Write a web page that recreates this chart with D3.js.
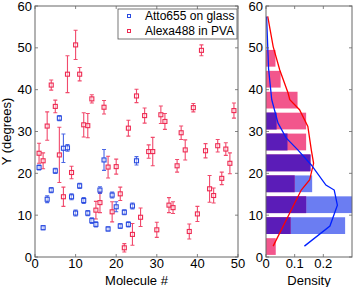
<!DOCTYPE html>
<html lang="en">
<head>
<meta charset="UTF-8">
<title>Molecule angles</title>
<script src="https://d3js.org/d3.v7.min.js"></script>
<style>
  body { margin: 0; background: #fff; }
  text { font-family: "Liberation Sans", Arial, sans-serif; fill: #000; }
  .tick-label { font-size: 13px; }
  .axis-label { font-size: 13px; }
  .legend text { font-size: 12px; }
</style>
</head>
<body>
<svg width="355" height="287"></svg>
<script>
// scatter data: molecule # -> gamma (degrees) with error
var blueMol = d3.range(1, 26);
var blueVals = [21.4, 7.0, 13.8, 16.0, 20.6, 33.2, 26.0, 26.1, 14.4, 10.5, 17.0, 13.5, 10.5,
                8.7, 7.8, 16.0, 23.2, 6.7, 14.8, 12.0, 7.4, 10.7, 7.8, 12.2, 23.0];
var blueErr = [0.6, 0.5, 0.8, 0.6, 0.6, 0.6, 3.4, 0.8, 0.7, 0.7, 0.6, 0.7, 0.6,
               0.7, 0.6, 0.8, 2.5, 0.5, 0.7, 1.2, 0.6, 0.6, 0.6, 0.7, 1.0];

var redMol = d3.range(1, 50);
var redVals = [24.8, 23.0, 31.3, 41.1, 36.0, 24.4, 14.4, 43.7, 20.2, 50.7, 43.7, 31.6, 31.4,
               37.8, 11.2, 13.0, 35.8, 21.5, 10.8, 21.6, 15.1, 2.2, 30.8, 5.4, 38.5, 9.5,
               33.8, 25.2, 25.2, 6.5, 34.0, 32.4, 12.4, 11.8, 21.8, 29.7, 25.6, 6.1, 35.7,
               10.3, 49.4, 25.4, 16.3, 14.7, 26.6, 18.8, 25.8, 22.4, 35.0];
var redErr = [2.4, 1.9, 3.4, 1.2, 1.5, 6.6, 2.3, 4.4, 1.5, 3.5, 1.6, 2.9, 2.9,
              1.0, 2.1, 2.4, 1.6, 2.6, 2.4, 1.8, 1.6, 1.0, 1.9, 2.6, 1.6, 2.2,
              1.8, 1.6, 3.4, 1.8, 2.1, 1.9, 1.8, 1.4, 1.5, 1.6, 2.4, 1.8, 1.0,
              1.8, 1.3, 1.7, 3.2, 1.8, 1.5, 1.5, 1.5, 2.5, 1.8];

// histogram (bin lower edges, width 5) and densities
var binStarts = [0, 5, 10, 15, 20, 25, 30, 35, 40, 45];
var redDensity  = [0.034, 0.086, 0.14, 0.10, 0.155, 0.14, 0.14, 0.11, 0.051, 0.033];
var blueDensity = [0, 0.276, 0.30, 0.161, 0.155, 0.075, 0.037, 0, 0, 0];

// smoothed density curves
var redCurveY = [2.6, 10.4, 16, 18.4, 22.4, 25.6, 31.2, 35.2, 37.6, 39.2, 44.7, 50.3, 57.5];
var redCurveX = [0.025, 0.082, 0.123, 0.152, 0.166, 0.158, 0.146, 0.117, 0.083, 0.077, 0.048, 0.025, 0.006];
var blueCurveY = [2.6, 7.4, 12.4, 16, 17.2, 22, 25.6, 28.4, 32, 37.6, 45, 57.5];
var blueCurveX = [0.134, 0.223, 0.249, 0.238, 0.209, 0.158, 0.111, 0.071, 0.042, 0.02, 0.009, 0.002];

var legendLabels = ["Atto655 on glass", "Alexa488 in PVA"];
var yTicks = [0, 10, 20, 30, 40, 50, 60];
var xTicks = [0, 10, 20, 30, 40, 50];
var dTicks = [0, 0.1, 0.2];

var blueCol = "#2a4be0", redCol = "#ee2a52";
var frameCol = "#666";

var svg = d3.select("svg");

var plotTop = 6, plotBottom = 257;
var x = d3.scaleLinear().domain([0, 50]).range([35, 238]);
var y = d3.scaleLinear().domain([0, 60]).range([plotBottom, plotTop]);
var xd = d3.scaleLinear().domain([0, 0.3]).range([266, 352]);

function frame(x0, x1, xt, xs, labelFmt) {
    var g = svg.append("g");
    // ticks inward on all four sides
    g.selectAll(".yt").data(yTicks).enter().append("path")
        .attr("d", function(d) { return "M" + x0 + "," + y(d) + "h3M" + x1 + "," + y(d) + "h-3"; })
        .attr("stroke", frameCol).attr("stroke-width", 0.8);
    g.selectAll(".xt").data(xt).enter().append("path")
        .attr("d", function(d) { return "M" + xs(d) + "," + plotBottom + "v-3M" + xs(d) + "," + plotTop + "v3"; })
        .attr("stroke", frameCol).attr("stroke-width", 0.8);
    g.append("rect")
        .attr("x", x0).attr("y", plotTop)
        .attr("width", x1 - x0).attr("height", plotBottom - plotTop)
        .attr("fill", "none").attr("stroke", frameCol).attr("stroke-width", 1);
    g.selectAll(".yl").data(yTicks).enter().append("text")
        .attr("class", "tick-label")
        .attr("x", x0 - 3).attr("y", function(d) { return y(d); })
        .attr("dy", "0.35em").attr("text-anchor", "end")
        .text(function(d) { return d; });
    g.selectAll(".xl").data(xt).enter().append("text")
        .attr("class", "tick-label")
        .attr("x", function(d) { return xs(d); }).attr("y", plotBottom + 11)
        .attr("text-anchor", "middle")
        .text(labelFmt);
}

// ---- left: scatter with error bars ----
function series(mol, vals, errs, col) {
    var g = svg.append("g").attr("stroke", col).attr("fill", "none").attr("stroke-width", 1.1);
    var pts = mol.map(function(m, i) { return { m: m, v: vals[i], e: errs[i] }; });
    g.selectAll(".eb").data(pts).enter().append("path")
        .attr("d", function(d) {
            var cx = x(d.m), y1 = y(d.v + d.e), y2 = y(d.v - d.e);
            return "M" + cx + "," + y1 + "V" + y2 +
                   "M" + (cx - 2) + "," + y1 + "h4M" + (cx - 2) + "," + y2 + "h4";
        })
        .attr("stroke-opacity", 0.85);
    g.selectAll(".mk").data(pts).enter().append("rect")
        .attr("x", function(d) { return x(d.m) - 2; })
        .attr("y", function(d) { return y(d.v) - 2; })
        .attr("width", 4).attr("height", 4)
        .attr("fill", "#fff").attr("fill-opacity", 0.5);
}

series(redMol, redVals, redErr, redCol);
series(blueMol, blueVals, blueErr, blueCol);

frame(35, 238, xTicks, x, function(d) { return d; });

// legend
var lg = svg.append("g").attr("class", "legend");
lg.append("rect").attr("x", 118).attr("y", 9).attr("width", 119).attr("height", 30)
    .attr("fill", "#fff").attr("stroke", "#555").attr("stroke-width", 0.8);
[blueCol, redCol].forEach(function(c, i) {
    var ly = 16 + i * 15;
    lg.append("rect").attr("x", 127.5).attr("y", ly - 1.5).attr("width", 3).attr("height", 3)
        .attr("fill", "none").attr("stroke", c).attr("stroke-width", 1);
    lg.append("text").attr("x", 145).attr("y", ly).attr("dy", "0.35em").text(legendLabels[i]);
});

svg.append("text").attr("class", "axis-label")
    .attr("x", 136.5).attr("y", 285).attr("text-anchor", "middle").text("Molecule #");
svg.append("text").attr("class", "axis-label")
    .attr("transform", "translate(11," + ((plotTop + plotBottom) / 2) + ") rotate(-90)")
    .attr("text-anchor", "middle").text("Y (degrees)");

// ---- right: histogram ----
var bh = 0.8 * 5;
var hg = svg.append("g");
binStarts.forEach(function(b, i) {
    var yTop = y(b + 2.5 + bh / 2), h = y(b + 2.5 - bh / 2) - yTop;
    var r = redDensity[i], bl = blueDensity[i], lo = Math.min(r, bl);
    if (bl > 0) hg.append("rect").attr("x", xd(0)).attr("y", yTop)
        .attr("width", xd(bl) - xd(0)).attr("height", h).attr("fill", "#6b7df2");
    if (r > 0) hg.append("rect").attr("x", xd(0)).attr("y", yTop)
        .attr("width", xd(r) - xd(0)).attr("height", h).attr("fill", "#f2568c");
    if (lo > 0) hg.append("rect").attr("x", xd(0)).attr("y", yTop)
        .attr("width", xd(lo) - xd(0)).attr("height", h).attr("fill", "#5b1cb8");
});

var curve = d3.line()
    .x(function(d) { return xd(d[0]); })
    .y(function(d) { return y(d[1]); });
svg.append("path").datum(d3.zip(redCurveX, redCurveY))
    .attr("d", curve).attr("fill", "none").attr("stroke", "#ff0000").attr("stroke-width", 1.3);
svg.append("path").datum(d3.zip(blueCurveX, blueCurveY))
    .attr("d", curve).attr("fill", "none").attr("stroke", "#0020ff").attr("stroke-width", 1.3);

frame(266, 352, dTicks, xd, function(d) { return d === 0 ? "0" : d3.format(".1f")(d); });

svg.append("text").attr("class", "axis-label")
    .attr("x", 309).attr("y", 285).attr("text-anchor", "middle").text("Density");
</script>
</body>
</html>
